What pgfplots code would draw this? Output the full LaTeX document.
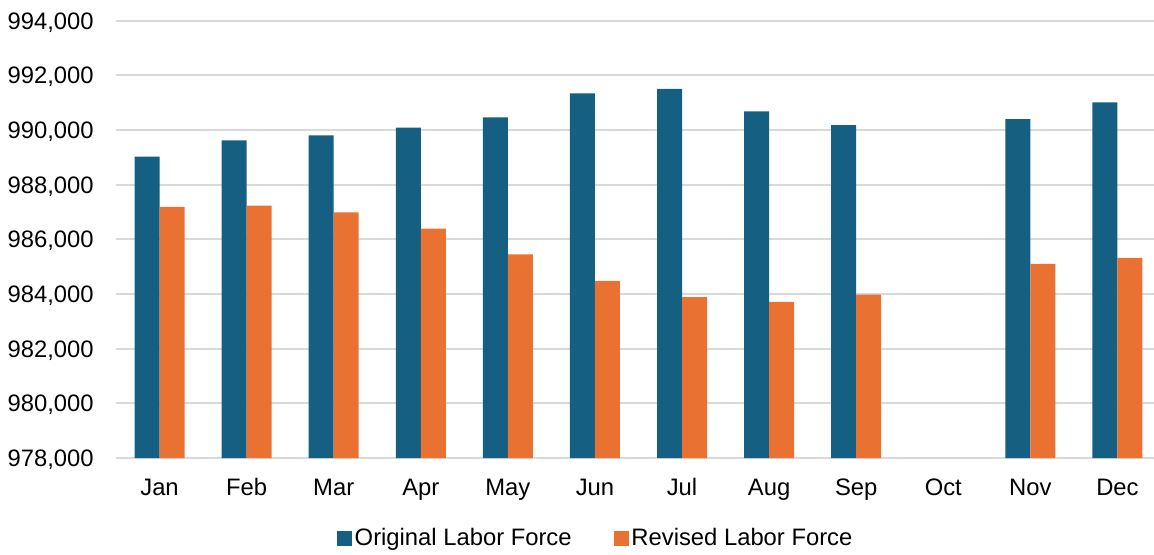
\documentclass[border=0pt]{standalone}
\usepackage{fontspec}
\setmainfont{Liberation Sans}
\usepackage{pgfplots}
\pgfplotsset{compat=1.18}

\definecolor{origblue}{HTML}{156082}
\definecolor{revorange}{HTML}{E97132}
\definecolor{gridgray}{HTML}{D9D9D9}

\begin{document}
\begin{tikzpicture}
\begin{axis}[
    scale only axis,
    width=519pt,
    height=218.65pt,
    ybar=0pt,
    bar width=12.5pt,
    xmin=-0.5, xmax=11.42,
    ymin=978000, ymax=994000,
    ytick={978000,980000,...,994000},
    xtick={0,...,11},
    xticklabels={Jan,Feb,Mar,Apr,May,Jun,Jul,Aug,Sep,Oct,Nov,Dec},
    scaled y ticks=false,
    /pgf/number format/fixed,
    /pgf/number format/precision=0,
    /pgf/number format/1000 sep={,},
    /pgf/number format/assume math mode=true,
    tick style={draw=none},
    axis line style={draw=none},
    ymajorgrids,
    grid style={gridgray, line width=1pt},
    tick label style={font=\fontsize{11.9}{14}\selectfont},
    yticklabel style={anchor=base east, inner xsep=0pt, xshift=-11pt, yshift=-4.3pt},
    xticklabel style={anchor=base, yshift=-14.5pt},
    legend columns=2,
    legend style={draw=none, fill=none, at={(0.4625,-0.1829)}, anchor=center,
        font=\fontsize{11.9}{14}\selectfont,
        nodes={inner xsep=1.2pt, inner ysep=0pt},
        /tikz/every even column/.append style={column sep=20pt}},
    legend image code/.code={\fill[#1] (0pt,-3.75pt) rectangle (7.5pt,3.75pt);},
]
\addplot[fill=origblue, draw=none] coordinates {
    (0,989024) (1,989623) (2,989806) (3,990084) (4,990464) (5,991342)
    (6,991510) (7,990684) (8,990183) (10,990402) (11,991015)
};
\addplot[fill=revorange, draw=none] coordinates {
    (0,987185) (1,987232) (2,986991) (3,986391) (4,985455) (5,984479)
    (6,983883) (7,983711) (8,983978) (10,985100) (11,985320)
};
\legend{Original Labor Force, Revised Labor Force}
\end{axis}
\pgfresetboundingbox
\path[use as bounding box] (-58pt,-48pt) rectangle (519pt,229pt);
\end{tikzpicture}
\end{document}
